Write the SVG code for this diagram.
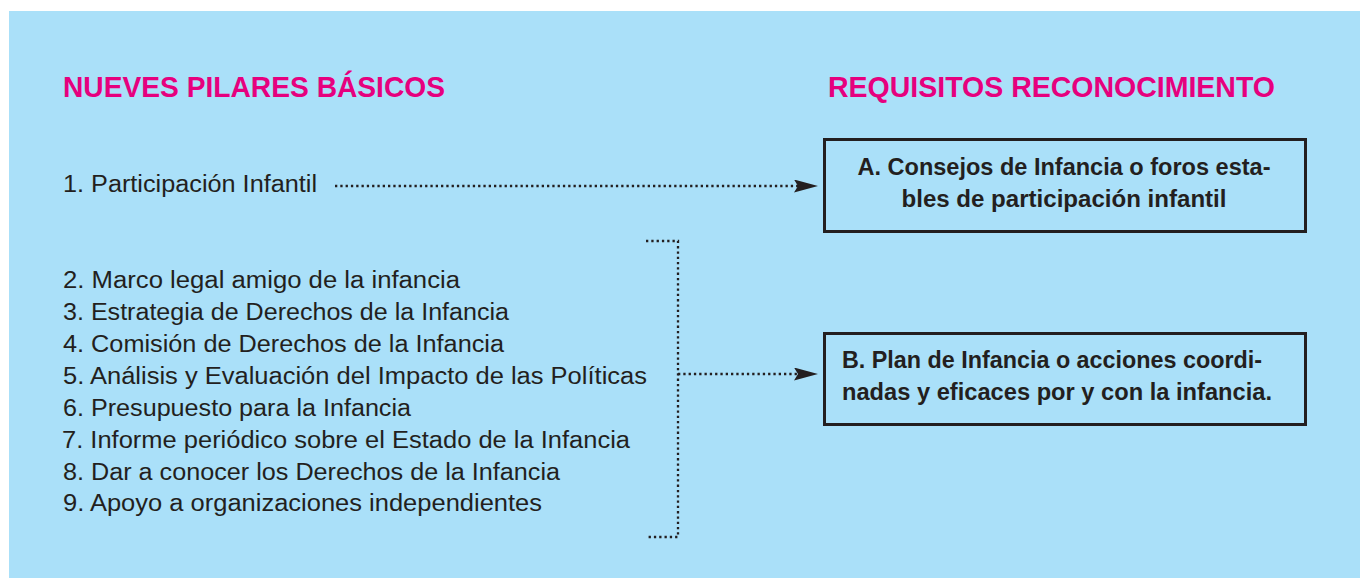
<svg xmlns="http://www.w3.org/2000/svg" width="1360" height="578" viewBox="0 0 1360 578">
<style>
.hdr{font-family:"Liberation Sans",Arial,sans-serif;font-weight:bold;font-size:30px;fill:#e6007e}
.item{font-family:"Liberation Sans",Arial,sans-serif;font-size:23px;fill:#231f20}
.boxt{font-family:"Liberation Sans",Arial,sans-serif;font-weight:bold;font-size:23px;fill:#231f20}
.box{fill:none;stroke:#231f20;stroke-width:3}
.dot{fill:none;stroke:#231f20;stroke-width:2.3;stroke-dasharray:2.3 3}
</style>
<defs>
<marker id="ah" viewBox="0 0 24 13" refX="6" refY="6.5" markerWidth="24" markerHeight="13" markerUnits="userSpaceOnUse" orient="auto">
<path d="M0,0 L24,6.5 L0,13 L4,6.5 Z" fill="#231f20"/>
</marker>
</defs>
<rect x="9" y="11" width="1351" height="567" fill="#aae0f9"/>
<g id="header-pilares"><text class="hdr" x="63" y="97" textLength="382" lengthAdjust="spacingAndGlyphs">NUEVES PILARES BÁSICOS</text></g>
<g id="header-requisitos"><text class="hdr" x="828" y="97" textLength="447" lengthAdjust="spacingAndGlyphs">REQUISITOS RECONOCIMIENTO</text></g>
<g id="pilar-1"><text class="item" x="63" y="192" textLength="254" lengthAdjust="spacingAndGlyphs">1. Participación Infantil</text></g>
<g id="pilares-2-9">
<text class="item" x="63" y="288" textLength="397" lengthAdjust="spacingAndGlyphs">2. Marco legal amigo de la infancia</text>
<text class="item" x="63" y="320" textLength="446" lengthAdjust="spacingAndGlyphs">3. Estrategia de Derechos de la Infancia</text>
<text class="item" x="63" y="352" textLength="441" lengthAdjust="spacingAndGlyphs">4. Comisión de Derechos de la Infancia</text>
<text class="item" x="63" y="384" textLength="584" lengthAdjust="spacingAndGlyphs">5. Análisis y Evaluación del Impacto de las Políticas</text>
<text class="item" x="63" y="416" textLength="348" lengthAdjust="spacingAndGlyphs">6. Presupuesto para la Infancia</text>
<text class="item" x="62" y="448" textLength="568" lengthAdjust="spacingAndGlyphs">7. Informe periódico sobre el Estado de la Infancia</text>
<text class="item" x="63" y="480" textLength="497" lengthAdjust="spacingAndGlyphs">8. Dar a conocer los Derechos de la Infancia</text>
<text class="item" x="63" y="511" textLength="479" lengthAdjust="spacingAndGlyphs">9. Apoyo a organizaciones independientes</text>
</g>
<g id="box-a">
<rect class="box" x="824.5" y="139.5" width="481" height="92"/>
<text class="boxt" x="1064" y="175" text-anchor="middle" textLength="413" lengthAdjust="spacingAndGlyphs">A. Consejos de Infancia o foros esta-</text>
<text class="boxt" x="1064" y="207" text-anchor="middle" textLength="325" lengthAdjust="spacingAndGlyphs">bles de participación infantil</text>
</g>
<g id="box-b">
<rect class="box" x="824.5" y="333.5" width="481" height="91"/>
<text class="boxt" x="842" y="368" textLength="420" lengthAdjust="spacingAndGlyphs">B. Plan de Infancia o acciones coordi-</text>
<text class="boxt" x="842" y="400" textLength="430" lengthAdjust="spacingAndGlyphs">nadas y eficaces por y con la infancia.</text>
</g>
<g id="connectors">
<path class="dot" d="M335,186 H800" marker-end="url(#ah)"/>
<path class="dot" d="M646,241 H678 V537 H646"/>
<path class="dot" d="M678,374 H800" marker-end="url(#ah)"/>
</g>
</svg>
